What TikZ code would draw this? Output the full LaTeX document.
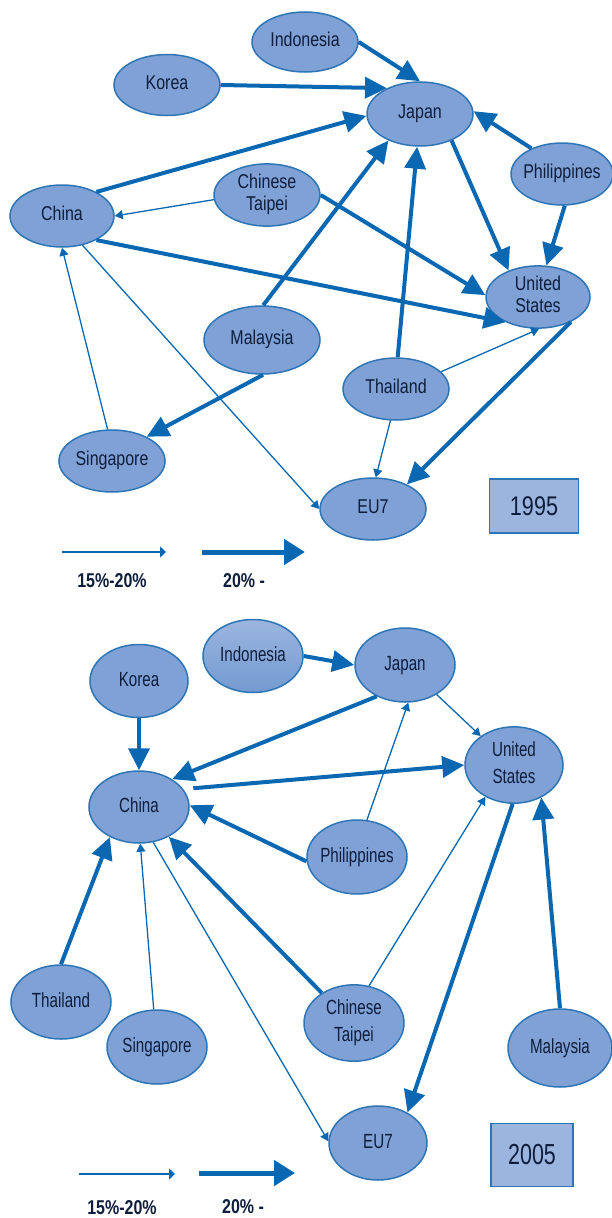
\documentclass[tikz,border=0pt]{standalone}
\usepackage{fontspec}
\setmainfont{Liberation Sans}[FakeStretch=0.8]
\newfontfamily\narrowA{Liberation Sans}[FakeStretch=0.8]
\newfontfamily\narrowB{Liberation Sans}[FakeStretch=0.74]
\usetikzlibrary{shapes.geometric,arrows.meta}
\definecolor{fillc}{RGB}{127,161,213}
\definecolor{bordc}{RGB}{46,117,182}
\definecolor{arrc}{RGB}{10,103,178}
\definecolor{txtc}{RGB}{15,30,60}
\definecolor{boxc}{RGB}{155,181,223}
\newcommand\nm[1]{\makebox[0pt]{\begin{tabular}{@{}c@{}}#1\end{tabular}}}
\tikzset{
  country/.style={ellipse, draw=bordc, line width=1.5pt, fill=fillc, inner sep=0pt, text=txtc},
  cA/.style={country, font=\narrowA\fontsize{20}{22}\selectfont},
  cB/.style={country, font=\narrowB\fontsize{20.5}{27}\selectfont},
  big/.style={draw=arrc, line width=4pt, -{Triangle[length=22pt,width=21pt]}},
  small/.style={draw=arrc, line width=1.3pt, -{Triangle[length=8pt,width=9pt]}},
  legsmall/.style={draw=arrc, line width=1.3pt, -{Triangle[length=6pt,width=11pt]}},
  legbig/.style={draw=arrc, line width=5pt, -{Triangle[length=21pt,width=25pt]}},
  yearbox/.style={rectangle, draw=bordc, line width=1.5pt, fill=boxc, inner sep=0pt, text=txtc},
  legtext/.style={anchor=base, text=txtc, font=\narrowA\bfseries\fontsize{20}{22}\selectfont},
}
\begin{document}
\begin{tikzpicture}[x=1pt,y=-1pt]
\useasboundingbox (0,0) rectangle (612,1218);
% ---------------- 1995 ----------------
\node[cA, minimum width=106, minimum height=60] (indo95) at (305,42) {\nm{Indonesia}};
\node[cA, minimum width=106, minimum height=61] (korea95) at (167,85) {\nm{Korea}};
\node[cA, minimum width=106, minimum height=64] (japan95) at (420,114) {\nm{Japan}};
\node[cA, minimum width=102, minimum height=62] (phil95) at (562,174) {\nm{Philippines}};
\node[cA, minimum width=104, minimum height=62] (china95) at (62,216) {\nm{China}};
\node[cA, minimum width=106, minimum height=58] (ct95) at (267,195) {\nm{Chinese\\Taipei}};
\node[cA, minimum width=104, minimum height=62] (us95) at (538,297) {\nm{United\\States}};
\node[cA, minimum width=116, minimum height=68] (malay95) at (262,340) {\nm{Malaysia}};
\node[cA, minimum width=106, minimum height=62] (thai95) at (396,389) {\nm{Thailand}};
\node[cA, minimum width=106, minimum height=62] (sing95) at (112,461) {\nm{Singapore}};
\node[cA, minimum width=106, minimum height=62] (eu95) at (373,509) {\nm{EU7}};
\node[yearbox, minimum width=89, minimum height=54, font=\narrowA\fontsize{27}{30}\selectfont] (y95) at (534,506) {1995};

\draw[big] (indo95.east) -- (japan95.north);
\draw[big] (korea95.east) -- (japan95.142);
\draw[big] (china95.35) -- (japan95.182);
\draw[big] (malay95.88) -- (japan95.220);
\draw[big] (thai95.87) -- (japan95.265);
\draw[big] (phil95.140) -- (japan95.3);
\draw[big] (japan95.-40) -- (us95.138);
\draw[big] (phil95.-85) -- (us95.75);
\draw[big] (ct95.east) -- (us95.178);
\draw[big] (china95.-35) -- (us95.218);
\draw[big] (malay95.-88) -- (sing95.35);
\draw[big] (us95.-37) -- (eu95.36);
\draw[small] (ct95.185) -- (china95.east);
\draw[small] (sing95.98) -- (china95.-90);
\draw[small] (china95.-55) -- (eu95.west);
\draw[small] (thai95.21) -- (us95.-88);
\draw[small] (thai95.-100) -- (eu95.85);

\coordinate (la95) at (62,552);
\coordinate (lb95) at (166,552);
\coordinate (lc95) at (202,552);
\coordinate (ld95) at (305,552);
\draw[legsmall] (la95) -- (lb95);
\draw[legbig] (lc95) -- (ld95);
\node[legtext] (t1a) at (112,587) {15\%-20\%};
\node[legtext] (t1b) at (244,587) {20\% -};

% ---------------- 2005 ----------------
\node[cB, minimum width=100, minimum height=73, shading=axis, top color=boxc, bottom color=fillc!85!bordc] (indo05) at (253,656) {\nm{Indonesia}};
\node[cB, minimum width=98, minimum height=73] (korea05) at (139,681) {\nm{Korea}};
\node[cB, minimum width=100, minimum height=74] (japan05) at (405,665) {\nm{Japan}};
\node[cB, minimum width=98, minimum height=74] (us05) at (514,765) {\nm{United\\States}};
\node[cB, minimum width=100, minimum height=72] (china05) at (139,807) {\nm{China}};
\node[cB, minimum width=100, minimum height=74] (phil05) at (357,857) {\nm{Philippines}};
\node[cB, minimum width=100, minimum height=74] (thai05) at (61,1002) {\nm{Thailand}};
\node[cB, minimum width=100, minimum height=74] (sing05) at (157,1047) {\nm{Singapore}};
\node[cB, minimum width=100, minimum height=74] (ct05) at (354,1023) {\nm{Chinese\\Taipei}};
\node[cB, minimum width=104, minimum height=78] (malay05) at (560,1048) {\nm{Malaysia}};
\node[cB, minimum width=98, minimum height=74] (eu05) at (378,1143) {\nm{EU7}};
\node[yearbox, minimum width=82, minimum height=63, font=\narrowB\fontsize{29}{32}\selectfont] (y05) at (532,1155) {2005};

\draw[big] (indo05.east) -- (japan05.west);
\draw[big] (korea05.south) -- (china05.north);
\draw[big] (japan05.228) -- (china05.40);
\draw[big, shorten <=10pt] (china05.22) -- (us05.west);
\draw[big] (phil05.185) -- (china05.2);
\draw[big] (thai05.north) -- (china05.226);
\draw[big] (ct05.137) -- (china05.-45);
\draw[big] (us05.-92) -- (eu05.46);
\draw[big] (malay05.90) -- (us05.-50);
\draw[small] (japan05.-43) -- (us05.139);
\draw[small] (phil05.75) -- (japan05.-85);
\draw[small] (sing05.95) -- (china05.-88);
\draw[small] (china05.-68) -- (eu05.178);
\draw[small] (ct05.68) -- (us05.228);

\coordinate (la05) at (79,1174);
\coordinate (lb05) at (175,1174);
\coordinate (lc05) at (199,1173);
\coordinate (ld05) at (295,1173);
\draw[legsmall] (la05) -- (lb05);
\draw[legbig] (lc05) -- (ld05);
\node[legtext] (t2a) at (122,1214) {15\%-20\%};
\node[legtext] (t2b) at (243,1213) {20\% -};
\end{tikzpicture}
\end{document}
